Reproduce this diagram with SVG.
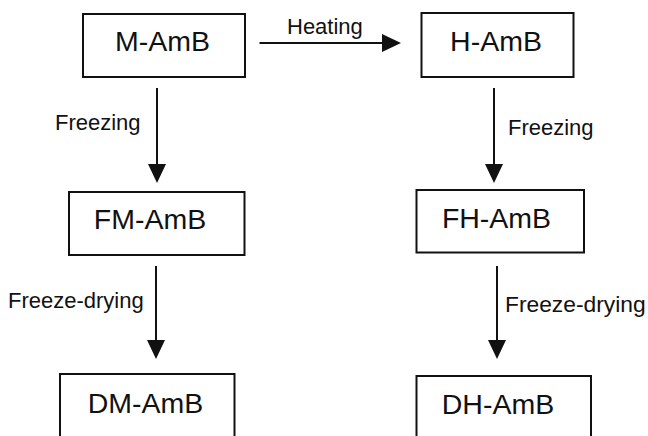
<svg xmlns="http://www.w3.org/2000/svg" width="648" height="436" viewBox="0 0 648 436">
<defs>
<style>
.box{fill:#fff;stroke:#111;stroke-width:2}
.nt{font-family:"Liberation Sans",Arial,sans-serif;font-size:28.5px;fill:#111;text-anchor:middle}
.lb{font-family:"Liberation Sans",Arial,sans-serif;font-size:22px;fill:#111}
.ln{stroke:#111;stroke-width:2;fill:none}
.hd{fill:#111}
</style>
</defs>
<rect width="648" height="436" fill="#fff"/>
<g id="connectors">
<line class="ln" x1="259.5" y1="43" x2="384" y2="43"/>
<polygon class="hd" points="382,34 401,43 382,52"/>
<text class="lb" x="287" y="34">Heating</text>
<line class="ln" x1="157" y1="88" x2="157" y2="166"/>
<polygon class="hd" points="148,164 166,164 157,183"/>
<text class="lb" x="55" y="130">Freezing</text>
<line class="ln" x1="494" y1="88" x2="494" y2="166"/>
<polygon class="hd" points="485,164 503,164 494,183"/>
<text class="lb" x="508" y="135">Freezing</text>
<line class="ln" x1="156" y1="266" x2="156" y2="342"/>
<polygon class="hd" points="147,340 165,340 156,359"/>
<text class="lb" x="8" y="308">Freeze-drying</text>
<line class="ln" x1="497" y1="266" x2="497" y2="342"/>
<polygon class="hd" points="488,340 506,340 497,359"/>
<text class="lb" x="505" y="312" style="font-size:22.8px">Freeze-drying</text>
</g>
<g id="M-AmB">
<rect class="box" x="83" y="14" width="162" height="63"/>
<text class="nt" x="162.5" y="50.7">M-AmB</text>
</g>
<g id="H-AmB">
<rect class="box" x="421.5" y="13" width="152" height="64"/>
<text class="nt" x="496" y="50.7">H-AmB</text>
</g>
<g id="FM-AmB">
<rect class="box" x="69" y="192" width="175.5" height="63"/>
<text class="nt" x="150" y="229.3">FM-AmB</text>
</g>
<g id="FH-AmB">
<rect class="box" x="416.5" y="190" width="167.5" height="62.5"/>
<text class="nt" x="496.5" y="227.7">FH-AmB</text>
</g>
<g id="DM-AmB">
<rect class="box" x="60" y="374" width="174.5" height="70"/>
<text class="nt" x="145.5" y="412.7">DM-AmB</text>
</g>
<g id="DH-AmB">
<rect class="box" x="416.5" y="376" width="174.5" height="70"/>
<text class="nt" x="498" y="414">DH-AmB</text>
</g>
</svg>
